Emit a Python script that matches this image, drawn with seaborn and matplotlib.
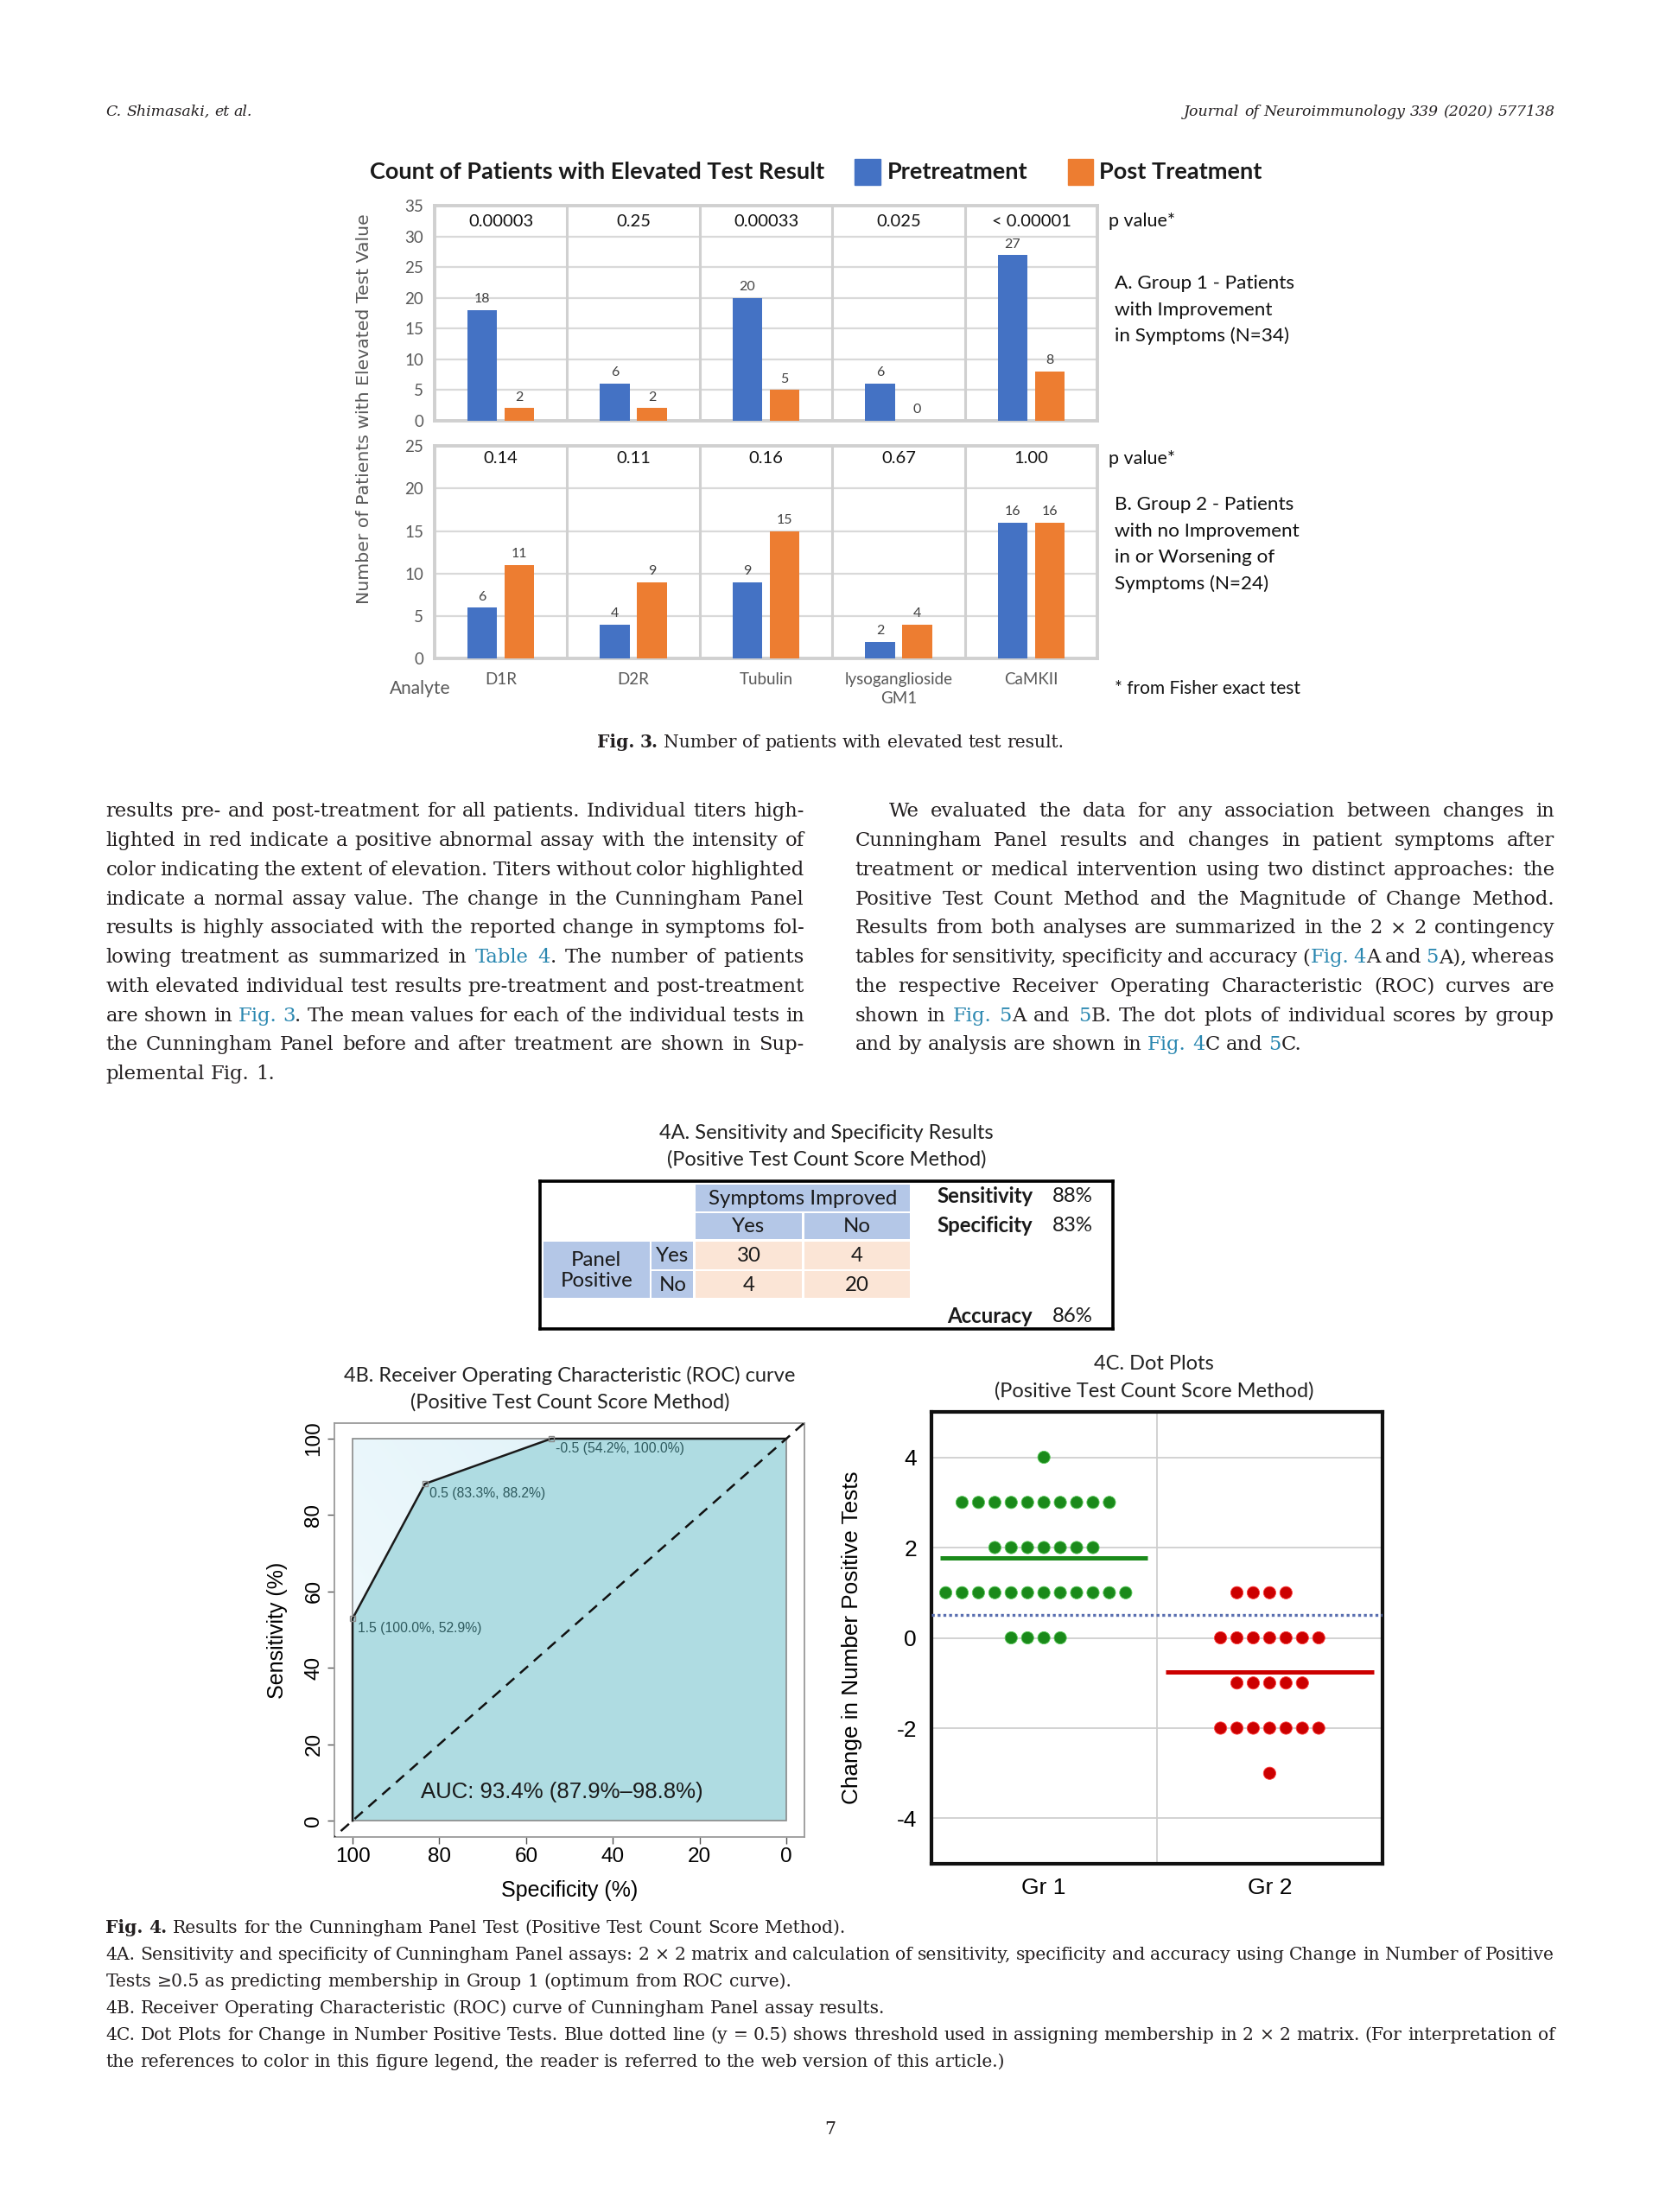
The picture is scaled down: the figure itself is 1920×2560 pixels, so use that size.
import numpy as np
import pandas as pd
import matplotlib
matplotlib.use("Agg")
import matplotlib.pyplot as plt
import seaborn as sns
from matplotlib.patches import Rectangle

# ------------------------------------------------------------------ data
analytes = ["D1R", "D2R", "Tubulin", "lysoganglioside\nGM1", "CaMKII"]
phases = ["Pretreatment", "Post Treatment"]
g1_pre = [18, 6, 20, 6, 27]
g1_post = [2, 2, 5, 0, 8]
g1_pvals = ["0.00003", "0.25", "0.00033", "0.025", "< 0.00001"]
g2_pre = [6, 4, 9, 2, 16]
g2_post = [11, 9, 15, 4, 16]
g2_pvals = ["0.14", "0.11", "0.16", "0.67", "1.00"]

table_col_labels = ["Yes", "No"]
table_row_labels = ["Yes", "No"]
table_values = [[30, 4], [4, 20]]
metric_names = ["Sensitivity", "Specificity", "Accuracy"]
metric_values = ["88%", "83%", "86%"]

roc_thresholds = ["1.5", "0.5", "-0.5"]
roc_spec = [100.0, 83.3, 54.2]
roc_sens = [52.9, 88.2, 100.0]
roc_curve_spec = [100.0, 100.0, 83.3, 54.2, 0.0]
roc_curve_sens = [0.0, 52.9, 88.2, 100.0, 100.0]
auc_label = "AUC: 93.4% (87.9%\u201398.8%)"

dot_groups = ["Gr 1", "Gr 2"]
gr1_values = [4, 3, 2, 1, 0]
gr1_counts = [1, 10, 7, 12, 4]
gr2_values = [1, 0, -1, -2, -3]
gr2_counts = [4, 7, 5, 7, 1]
threshold = 0.5

# ------------------------------------------------------------------ style
W, H = 1920, 2560
S = 1920 / 1176.0
BLUE, ORANGE = "#4472C4", "#ED7D31"
GREEN, RED = "#1a8a1a", "#cc0000"
LATO, SANS, SERIF = "Lato", "Liberation Sans", "DejaVu Serif"
TXT, LINK = "#231f20", "#2a87b0"
GRAYTXT = "#595959"

fig = plt.figure(figsize=(19.2, 25.6), dpi=100)
fig.patch.set_facecolor("white")
renderer = fig.canvas.get_renderer()


def R(x0, y0, x1, y1):
    return [x0 * S / W, 1 - y1 * S / H, (x1 - x0) * S / W, (y1 - y0) * S / H]


def T(x, y, s, **kw):
    return fig.text(x * S / W, 1 - y * S / H, s, **kw)


def text_width(s, **kw):
    t = fig.text(0, 0, s, **kw)
    w = t.get_window_extent(renderer).width
    t.remove()
    return w


def parse(line):
    words, cur, buf = [], [], ""
    state = {"c": False, "b": False}
    for ch in line:
        if ch in "[]{}":
            if buf:
                cur.append((buf, state["c"], state["b"]))
                buf = ""
            if ch == "[":
                state["c"] = True
            elif ch == "]":
                state["c"] = False
            elif ch == "{":
                state["b"] = True
            else:
                state["b"] = False
        elif ch == " ":
            if buf:
                cur.append((buf, state["c"], state["b"]))
                buf = ""
            if cur:
                words.append(cur)
                cur = []
        else:
            buf += ch
    if buf:
        cur.append((buf, state["c"], state["b"]))
    if cur:
        words.append(cur)
    return words


def draw_line(line, x0, x1, yb, size, align="left", family=SERIF, style="normal", color=TXT):
    """x0, x1, yb in shrunk-page coordinates; yb = baseline."""
    X0, X1, Y = x0 * S, x1 * S, yb * S
    words = parse(line)
    n = len(words)
    while True:
        widths = []
        for w in words:
            widths.append([text_width(s, fontsize=size, family=family, style=style,
                                      weight="bold" if b else "normal") for s, c, b in w])
        total = sum(sum(ws) for ws in widths)
        space = text_width("a a", fontsize=size, family=family, style=style) - \
            text_width("aa", fontsize=size, family=family, style=style)
        if total + 0.6 * space * (n - 1) <= (X1 - X0) or size < 8:
            break
        size -= 0.25
    if align == "justify" and n > 1:
        gap = (X1 - X0 - total) / (n - 1)
        x = X0
    elif align == "center":
        gap = space
        x = (X0 + X1) / 2 - (total + gap * (n - 1)) / 2
    elif align == "right":
        gap = space
        x = X1 - (total + gap * (n - 1))
    else:
        gap = space
        x = X0
    for w, ws in zip(words, widths):
        for (s, c, b), wd in zip(w, ws):
            fig.text(x / W, 1 - Y / H, s, fontsize=size, family=family, style=style,
                     weight="bold" if b else "normal", color=LINK if c else color,
                     ha="left", va="baseline")
            x += wd
        x += gap


# ------------------------------------------------------------------ header
draw_line("C. Shimasaki, et al.", 75, 600, 82, 12.5, style="italic")
draw_line("Journal of Neuroimmunology 339 (2020) 577138", 600, 1102, 82, 12.5,
          align="right", style="italic")

# ------------------------------------------------------------------ Fig 3
TFS = 19.5
T(262, 122, "Count of Patients with Elevated Test Result", fontsize=TFS,
  weight="bold", family=LATO, va="center", color="#1a1a1a")
fig.add_artist(Rectangle((606 * S / W, 1 - 131 * S / H), 18 * S / W, 18 * S / H,
                         transform=fig.transFigure, color=BLUE))
T(629, 122, phases[0], fontsize=TFS, weight="bold", family=LATO, va="center", color="#1a1a1a")
fig.add_artist(Rectangle((757 * S / W, 1 - 131 * S / H), 18 * S / W, 18 * S / H,
                         transform=fig.transFigure, color=ORANGE))
T(779, 122, phases[1], fontsize=TFS, weight="bold", family=LATO, va="center", color="#1a1a1a")

ax3a = fig.add_axes(R(308, 146, 778, 298))
ax3b = fig.add_axes(R(308, 316, 778, 467))
for ax, pre, post, pv, ymax, pvy in [(ax3a, g1_pre, g1_post, g1_pvals, 35, 32.5),
                                     (ax3b, g2_pre, g2_post, g2_pvals, 25, 23.5)]:
    df = pd.DataFrame({"Analyte": analytes * 2,
                       "Phase": [phases[0]] * len(pre) + [phases[1]] * len(post),
                       "Count": pre + post})
    sns.barplot(data=df, x="Analyte", y="Count", hue="Phase", hue_order=phases,
                palette=[BLUE, ORANGE], width=0.56, gap=0.2, saturation=1,
                errorbar=None, legend=False, ax=ax, zorder=3)
    for cont in ax.containers:
        ax.bar_label(cont, fmt="%d", padding=4, fontsize=11.5, color="#404040", family=LATO)
    ax.set_xlim(-0.5, 4.5)
    ax.set_ylim(0, ymax)
    ax.set_yticks(np.arange(0, ymax + 1, 5))
    ax.yaxis.grid(True, color="#d9d9d9", lw=1.6)
    ax.set_axisbelow(True)
    for xv in np.arange(0.5, 4, 1):
        ax.axvline(xv, color="#d0d0d0", lw=2.2, zorder=1)
    for sp in ax.spines.values():
        sp.set_color("#d0d0d0")
        sp.set_linewidth(2.8)
    ax.tick_params(length=0, labelsize=13.5, labelcolor=GRAYTXT, pad=9)
    for lab in ax.get_yticklabels():
        lab.set_family(LATO)
    ax.set_xlabel("")
    ax.set_ylabel("")
    for i, p in enumerate(pv):
        ax.text(i, pvy, p, ha="center", va="center", fontsize=14.5, family=LATO, color="#111111")
ax3a.set_xticks(range(len(analytes)))
ax3a.set_xticklabels([])
ax3b.set_xticks(range(len(analytes)))
ax3b.set_xticklabels(analytes, fontsize=13.5, color=GRAYTXT, family=LATO, linespacing=1.35)
ax3b.tick_params(axis="x", pad=11)

T(786, 157, "p value*", fontsize=15.5, family=LATO, va="center", color="#111111")
T(786, 325, "p value*", fontsize=15.5, family=LATO, va="center", color="#111111")
for k, s in enumerate(["A. Group 1 - Patients", "with Improvement", "in Symptoms (N=34)"]):
    T(790, 201 + 18.6 * k, s, fontsize=16.2, family=LATO, va="center", color="#111111")
for k, s in enumerate(["B. Group 2 - Patients", "with no Improvement", "in or Worsening of",
                       "Symptoms (N=24)"]):
    T(790, 358 + 18.6 * k, s, fontsize=16.2, family=LATO, va="center", color="#111111")
T(790, 488, "* from Fisher exact test", fontsize=15, family=LATO, va="center", color="#111111")
T(298, 488, "Analyte", fontsize=15, family=LATO, va="center", ha="center", color=GRAYTXT)
T(258, 290, "Number of Patients with Elevated Test Value", rotation=90, ha="center",
  va="center", fontsize=14.7, color=GRAYTXT, family="DejaVu Sans")

CAP = 14.6
draw_line("{Fig. 3.} Number of patients with elevated test result.", 75, 1102, 530, CAP,
          align="center")

# ------------------------------------------------------------------ body text
left_lines = [
    "results pre- and post-treatment for all patients. Individual titers high-",
    "lighted in red indicate a positive abnormal assay with the intensity of",
    "color indicating the extent of elevation. Titers without color highlighted",
    "indicate a normal assay value. The change in the Cunningham Panel",
    "results is highly associated with the reported change in symptoms fol-",
    "lowing treatment as summarized in [Table 4]. The number of patients",
    "with elevated individual test results pre-treatment and post-treatment",
    "are shown in [Fig. 3]. The mean values for each of the individual tests in",
    "the Cunningham Panel before and after treatment are shown in Sup-",
    "plemental Fig. 1.",
]
right_lines = [
    "We evaluated the data for any association between changes in",
    "Cunningham Panel results and changes in patient symptoms after",
    "treatment or medical intervention using two distinct approaches: the",
    "Positive Test Count Method and the Magnitude of Change Method.",
    "Results from both analyses are summarized in the 2 \u00d7 2 contingency",
    "tables for sensitivity, specificity and accuracy ([Fig. 4]A and [5]A), whereas",
    "the respective Receiver Operating Characteristic (ROC) curves are",
    "shown in [Fig. 5]A and [5]B. The dot plots of individual scores by group",
    "and by analysis are shown in [Fig. 4]C and [5]C.",
]
BODY = 16.3
for i, ln in enumerate(left_lines):
    draw_line(ln, 75, 570, 579 + 20.67 * i, BODY,
              align="justify" if i < len(left_lines) - 1 else "left")
for i, ln in enumerate(right_lines):
    draw_line(ln, 630 if i == 0 else 606, 1102, 579 + 20.67 * i, BODY,
              align="justify" if i < len(right_lines) - 1 else "left")

# ------------------------------------------------------------------ Fig 4A table
HFS = 17
T(586, 803, "4A. Sensitivity and Specificity Results", fontsize=HFS, family=LATO,
  ha="center", va="center", color="#222222")
T(586, 822, "(Positive Test Count Score Method)", fontsize=HFS, family=LATO,
  ha="center", va="center", color="#222222")
axT = fig.add_axes(R(383, 837, 789, 942))
axT.set_xlim(383, 789)
axT.set_ylim(942, 837)
axT.set_xticks([])
axT.set_yticks([])
for sp in axT.spines.values():
    sp.set_linewidth(2.6)
    sp.set_color("black")
HDR, VAL = "#b4c7e7", "#fbe5d6"
tfs = 17.3


def cell(x0, y0, x1, y1, fc, txt=None, **kw):
    axT.add_patch(Rectangle((x0, y0), x1 - x0, y1 - y0, fc=fc, ec="none"))
    if txt is not None:
        axT.text((x0 + x1) / 2, (y0 + y1) / 2 + 0.5, txt, ha="center", va="center",
                 fontsize=tfs, family=LATO, color="#1a1a1a", **kw)


col_edges = [(493, 568.5), (570, 645)]
row_edges = [(880, 899.5), (901, 920)]
cell(493, 840, 645, 858.5, HDR, "Symptoms Improved")
for (x0, x1), lab in zip(col_edges, table_col_labels):
    cell(x0, 860, x1, 878.5, HDR, lab)
cell(385, 880, 460.5, 920, HDR, "Panel\nPositive", linespacing=1.2)
for (y0, y1), lab in zip(row_edges, table_row_labels):
    cell(462, y0, 491.5, y1, HDR, lab)
for r, (y0, y1) in enumerate(row_edges):
    for c, (x0, x1) in enumerate(col_edges):
        cell(x0, y0, x1, y1, VAL, str(table_values[r][c]))
for name, val, yy in zip(metric_names, metric_values, [848, 869, 933]):
    axT.text(732, yy, name, ha="right", va="center", fontsize=tfs, family=LATO,
             weight="bold", color="#1a1a1a")
    axT.text(746, yy, val, ha="left", va="center", fontsize=tfs, family=LATO, color="#1a1a1a")

# ------------------------------------------------------------------ Fig 4B ROC
T(404, 975, "4B. Receiver Operating Characteristic (ROC) curve", fontsize=HFS,
  family=LATO, ha="center", va="center", color="#222222")
T(404, 994, "(Positive Test Count Score Method)", fontsize=HFS, family=LATO,
  ha="center", va="center", color="#222222")
axR = fig.add_axes(R(237, 1009, 570, 1302))
gx = np.linspace(0, 1, 200)
gy = np.linspace(0, 1, 200)
GX, GY = np.meshgrid(gx, gy)
tt = np.clip(0.6 * GX + 0.4 * (1 - GY), 0, 1)[..., None]
c_light = np.array([0.955, 0.985, 0.995])
c_dark = np.array([0.86, 0.94, 0.97])
grad = c_dark * tt + c_light * (1 - tt)
axR.imshow(grad[::-1, ::-1], extent=(0, 100, 0, 100), aspect="auto", origin="lower", zorder=0)
axR.fill(roc_curve_spec + [0.0], roc_curve_sens + [0.0], color="#afdce2", zorder=1, lw=0)
axR.add_patch(Rectangle((0, 0), 100, 100, fill=False, ec="#8a8a8a", lw=1.2, zorder=2))
axR.axline((100, 0), (0, 100), color="#111111", lw=1.8, dashes=(5, 3.5), zorder=3)
sns.lineplot(x=roc_curve_spec, y=roc_curve_sens, sort=False, estimator=None,
             color="#1a1a1a", lw=1.8, ax=axR, zorder=4)
axR.plot(roc_spec, roc_sens, "s", mfc="none", mec="#8a8a8a", ms=5, mew=1, zorder=5)
for t, sp, se in zip(roc_thresholds, roc_spec, roc_sens):
    axR.annotate(f"{t} ({sp:.1f}%, {se:.1f}%)", (sp, se), xytext=(4, -3),
                 textcoords="offset points", ha="left", va="top", fontsize=11.3,
                 family=SANS, color="#2e5a5e", zorder=6)
axR.text(51.8, 7.4, auc_label, ha="center", va="center", fontsize=18.5, family=SANS,
         color="#1a1a1a", zorder=6)
axR.set_xlim(104.2, -4.1)
axR.set_ylim(-4.2, 104)
axR.set_xticks([100, 80, 60, 40, 20, 0])
axR.set_yticks([0, 20, 40, 60, 80, 100])
axR.set_xticklabels(["100", "80", "60", "40", "20", "0"], fontsize=17.5, family=SANS)
axR.set_yticklabels(["0", "20", "40", "60", "80", "100"], fontsize=17.5, family=SANS,
                    rotation=90, va="center")
axR.tick_params(direction="out", length=6, width=1, color="#555555", pad=3)
for sp in axR.spines.values():
    sp.set_color("#9a9a9a")
    sp.set_linewidth(1.3)
axR.set_xlabel("Specificity (%)", fontsize=18, family=SANS)
axR.set_ylabel("Sensitivity (%)", fontsize=18, family=SANS)
axR.xaxis.set_label_coords(0.5, -0.105)
axR.yaxis.set_label_coords(-0.1, 0.5)

# ------------------------------------------------------------------ Fig 4C dot plot
T(818, 967, "4C. Dot Plots", fontsize=HFS, family=LATO, ha="center", va="center",
  color="#222222")
T(818, 986, "(Positive Test Count Score Method)", fontsize=HFS, family=LATO,
  ha="center", va="center", color="#222222")
axD = fig.add_axes(R(660, 1001, 980, 1321))
DOT_STEP = 0.0725
rows = []
for gi, (vals, cnts) in enumerate([(gr1_values, gr1_counts), (gr2_values, gr2_counts)]):
    for v, c in zip(vals, cnts):
        for o in (np.arange(c) - c // 2) * DOT_STEP:
            rows.append((dot_groups[gi], gi + o, v))
dfd = pd.DataFrame(rows, columns=["Group", "x", "Score"])
sns.scatterplot(data=dfd, x="x", y="Score", hue="Group", hue_order=dot_groups,
                palette=[GREEN, RED], s=105, linewidth=0.6, edgecolor=None,
                legend=False, ax=axD, zorder=4)
for coll in axD.collections:
    fc = coll.get_facecolors()
    if len(fc):
        coll.set_edgecolors([(min(1, c[0] + 0.25), min(1, c[1] + 0.25), min(1, c[2] + 0.25), 1)
                             for c in fc])
for gi, (vals, cnts, col) in enumerate([(gr1_values, gr1_counts, GREEN),
                                        (gr2_values, gr2_counts, RED)]):
    m = np.mean(np.repeat(vals, cnts))
    axD.hlines(m, gi - 0.46, gi + 0.46, color=col, lw=3.6, zorder=5)
axD.axhline(threshold, color="#5a6fb0", lw=2.4, ls=(0, (1, 1)), zorder=3)
axD.set_xlim(-0.5, 1.5)
axD.set_ylim(-5, 5)
axD.set_yticks([-4, -2, 0, 2, 4])
axD.set_yticklabels(["-4", "-2", "0", "2", "4"], fontsize=19, family=SANS)
axD.set_xticks([0, 1])
axD.set_xticklabels(dot_groups, fontsize=19, family=SANS)
axD.yaxis.grid(True, color="#cfcfcf", lw=1.3)
axD.axvline(0.5, color="#cfcfcf", lw=1.3, zorder=1)
axD.set_axisbelow(True)
axD.tick_params(length=0, pad=12)
for sp in axD.spines.values():
    sp.set_color("#111111")
    sp.set_linewidth(3)
axD.set_xlabel("")
axD.set_ylabel("Change in Number Positive Tests", fontsize=18.8, family=SANS)
axD.yaxis.set_label_coords(-0.153, 0.5)

# ------------------------------------------------------------------ Fig 4 caption
cap_lines = [
    ("{Fig. 4.} Results for the Cunningham Panel Test (Positive Test Count Score Method).", "left"),
    ("4A. Sensitivity and specificity of Cunningham Panel assays: 2 \u00d7 2 matrix and calculation "
     "of sensitivity, specificity and accuracy using Change in Number of Positive", "justify"),
    ("Tests \u22650.5 as predicting membership in Group 1 (optimum from ROC curve).", "left"),
    ("4B. Receiver Operating Characteristic (ROC) curve of Cunningham Panel assay results.", "left"),
    ("4C. Dot Plots for Change in Number Positive Tests. Blue dotted line (y = 0.5) shows threshold "
     "used in assigning membership in 2 \u00d7 2 matrix. (For interpretation of", "justify"),
    ("the references to color in this figure legend, the reader is referred to the web version "
     "of this article.)", "left"),
]
for i, (ln, al) in enumerate(cap_lines):
    draw_line(ln, 75, 1102, 1370 + 19 * i, CAP, align=al)

draw_line("7", 75, 1102, 1513, CAP, align="center")

fig.savefig("out.png", dpi=100, facecolor="white")
